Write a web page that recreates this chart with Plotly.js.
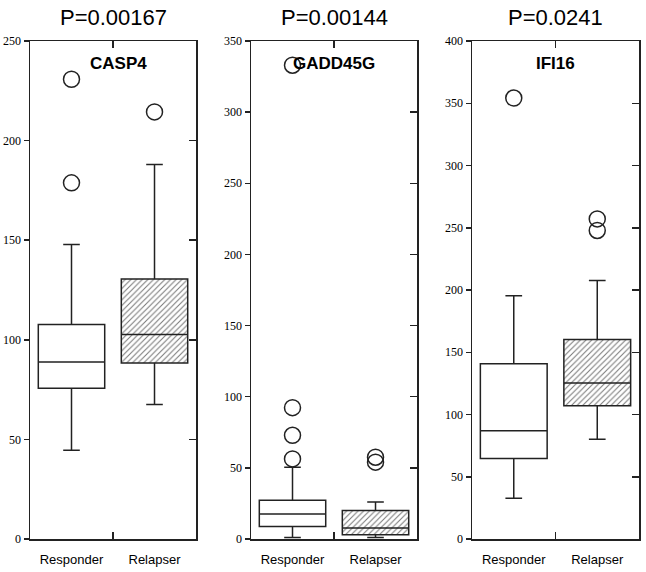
<!DOCTYPE html>
<html>
<head>
<meta charset="utf-8">
<script src="https://cdn.plot.ly/plotly-3.0.1.min.js"></script>
<style>html,body{margin:0;padding:0;background:#fff;}#chart{width:646px;height:572px;}</style>
</head>
<body>
<div id="chart"></div>
<script>
const categories = ['Responder', 'Relapser'];
const genes = ['CASP4', 'GADD45G', 'IFI16'];
const pLabels = ['P=0.00167', 'P=0.00144', 'P=0.0241'];
const yMaxes = [250, 350, 400];
const lowerFence = [[44.5, 67.5], [1, 1], [32.7, 80.2]];
const q1 = [[75.7, 88.3], [8.7, 3.0], [64.7, 107]];
const median = [[88.9, 102.7], [17.5, 7.7], [86.9, 125.4]];
const q3 = [[107.7, 130.5], [27.3, 20.1], [140.8, 160.3]];
const upperFence = [[147.8, 188], [50.5, 26], [195.3, 207.6]];
const responderOutliers = [[230.8, 178.8], [333, 92.3, 72.9, 56.3], [354.2]];
const relapserOutliers = [[214.4], [57.5, 54], [257.1, 247.8]];

const ink = '#222';
const domains = [[0, 0.2726], [0.3629, 0.6355], [0.7258, 1]];
const traces = [];
const layout = {
  width: 646, height: 572,
  margin: {l: 30, r: 7, t: 41, b: 33},
  paper_bgcolor: '#fff', plot_bgcolor: '#fff',
  showlegend: false,
  barmode: 'overlay',
  annotations: []
};

genes.forEach((g, i) => {
  const n = i + 1;
  const xa = n === 1 ? 'x' : 'x' + n;
  const ya = n === 1 ? 'y' : 'y' + n;
  const yr = 'y' + (n + 3);
  // hatched fill for Relapser box
  traces.push({
    type: 'bar', x: [categories[1]], y: [q3[i][1] - q1[i][1]], base: [q1[i][1]],
    width: 0.8, xaxis: xa, yaxis: ya, hoverinfo: 'skip',
    marker: {color: '#fff', line: {width: 0},
      pattern: {shape: '/', fgcolor: '#777', bgcolor: '#fff', size: 4, solidity: 0.25}}
  });
  traces.push({
    type: 'box', x: categories, q1: q1[i], median: median[i], q3: q3[i],
    lowerfence: lowerFence[i], upperfence: upperFence[i],
    width: 0.8, whiskerwidth: 0.25, xaxis: xa, yaxis: ya,
    fillcolor: 'rgba(0,0,0,0)', line: {color: ink, width: 1.5}, hoverinfo: 'skip'
  });
  const ox = responderOutliers[i].map(() => categories[0]).concat(relapserOutliers[i].map(() => categories[1]));
  traces.push({
    type: 'scatter', mode: 'markers', x: ox, y: responderOutliers[i].concat(relapserOutliers[i]),
    xaxis: xa, yaxis: ya, hoverinfo: 'skip', cliponaxis: false,
    marker: {symbol: 'circle-open', size: 16, color: ink, line: {width: 1.5, color: ink}}
  });
  // empty trace so the right-hand tick axis is drawn
  traces.push({
    type: 'scatter', mode: 'markers', x: [categories[0]], y: [null],
    xaxis: xa, yaxis: yr, hoverinfo: 'skip', marker: {opacity: 0}
  });

  layout['xaxis' + (n === 1 ? '' : n)] = {
    domain: domains[i], anchor: ya, type: 'category', range: [-0.5, 1.5],
    categoryorder: 'array', categoryarray: categories,
    tickson: 'boundaries', ticks: 'inside', ticklen: 7, tickwidth: 1.5, tickcolor: ink,
    showline: true, linecolor: ink, linewidth: 1.5, mirror: 'ticks', showgrid: false, zeroline: false,
    tickfont: {family: 'Liberation Sans, Arial, sans-serif', size: 13, color: '#000'},
    ticklabelstandoff: 8, fixedrange: true
  };
  layout['yaxis' + (n === 1 ? '' : n)] = {
    anchor: xa, range: [0, yMaxes[i]], dtick: 50, tick0: 0,
    ticks: 'outside', ticklen: 5, tickwidth: 1.5, tickcolor: ink,
    showline: true, linecolor: ink, linewidth: 1.5, mirror: true, showgrid: false, zeroline: false,
    tickfont: {family: 'Liberation Serif, Times New Roman, serif', size: 12, color: '#000'},
    fixedrange: true
  };
  layout['yaxis' + (n + 3)] = {
    overlaying: ya, anchor: xa, side: 'right', range: [0, yMaxes[i]], dtick: 50, tick0: 0,
    ticks: 'inside', ticklen: 7, tickwidth: 1.5, tickcolor: ink,
    showticklabels: false, showline: false, showgrid: false, zeroline: false, fixedrange: true
  };
  layout.annotations.push({
    text: pLabels[i], xref: xa + ' domain', yref: 'paper', x: 0.5, y: 1,
    xanchor: 'center', yanchor: 'bottom', yshift: 9, showarrow: false,
    font: {family: 'Liberation Sans, Arial, sans-serif', size: 22, color: '#000'}
  });
  layout.annotations.push({
    text: '<b>' + g + '</b>', xref: xa + ' domain', yref: 'paper', x: 0.5, y: 1,
    xanchor: 'center', yanchor: 'top', yshift: -11, xshift: i === 0 ? 5 : 0, showarrow: false,
    font: {family: 'Liberation Sans, Arial, sans-serif', size: 17, color: '#000'}
  });
});

Plotly.newPlot('chart', traces, layout, {displayModeBar: false, staticPlot: true});
</script>
</body>
</html>
